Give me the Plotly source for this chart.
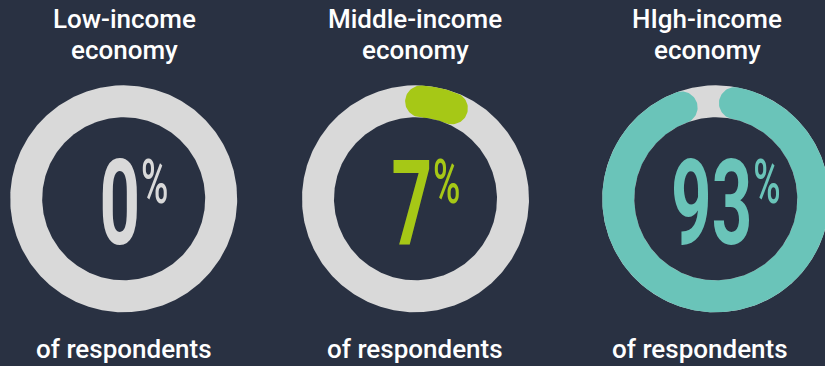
import numpy as np
import plotly.graph_objects as go

# --- data -------------------------------------------------------------
title_lines = [["Low-income", "economy"],
               ["Middle-income", "economy"],
               ["HIgh-income", "economy"]]
shares = [0, 7, 93]            # % of respondents
footers = ["of respondents", "of respondents", "of respondents"]

# --- style / layout -----------------------------------------------------
W, H = 825, 366
BG = "#293142"
TRACK = "#d9d9d9"
COLORS = ["#d9d9d9", "#a6c816", "#6ac4b9"]
RING_CX = [123.7, 415.5, 715.8]      # donut centres (px)
TITLE_CX = [124, 415, 707]
FOOT_CX = [124, 415, 700]
RING_CY = 198.8
R_OUT, R_IN = 113.5, 81.5
R_MID, HALF_W = (R_OUT + R_IN) / 2, (R_OUT - R_IN) / 2
START_DEG = [0, 0, 8]                # arc rotation, clockwise from 12 o'clock
CAP_INSET = 3.3                      # degrees the round caps are pulled in

FAMILY = "Roboto, Inter, sans-serif"
TEXT_FONT = dict(family=FAMILY, size=26, color="white", weight=500)
NUM_SIZE, PCT_SIZE = 118, 62
SQUEEZE = 0.6                        # horizontal condensing of the big figures
DIGIT_EM, PCT_EM = 0.5615, 0.74      # Roboto advance widths


def pt(cx, cy, r, deg):
    a = np.radians(deg)
    return cx + r * np.sin(a), cy - r * np.cos(a)


def circle(cx, cy, r, n=360):
    a = np.linspace(0, 360, n + 1)
    return pt(cx, cy, r, a)


def rounded_arc(cx, cy, a0, a1, n=200):
    """Closed outline of an annulus sector with round end caps."""
    xs, ys = [], []
    a = np.linspace(a0, a1, n)
    x, y = pt(cx, cy, R_OUT, a)
    xs += list(x); ys += list(y)
    u = np.array([np.sin(np.radians(a1)), -np.cos(np.radians(a1))])
    t = np.array([np.cos(np.radians(a1)), np.sin(np.radians(a1))])
    c = np.array(pt(cx, cy, R_MID, a1))
    for ph in np.linspace(0, np.pi, 40):
        p = c + HALF_W * (u * np.cos(ph) + t * np.sin(ph))
        xs.append(p[0]); ys.append(p[1])
    x, y = pt(cx, cy, R_IN, a[::-1])
    xs += list(x); ys += list(y)
    u = np.array([np.sin(np.radians(a0)), -np.cos(np.radians(a0))])
    t = np.array([np.cos(np.radians(a0)), np.sin(np.radians(a0))])
    c = np.array(pt(cx, cy, R_MID, a0))
    for ph in np.linspace(0, np.pi, 40):
        p = c + HALF_W * (-u * np.cos(ph) - t * np.sin(ph))
        xs.append(p[0]); ys.append(p[1])
    xs.append(xs[0]); ys.append(ys[0])
    return xs, ys


fig = go.Figure()

for i, v in enumerate(shares):
    cx = RING_CX[i]
    # grey track (full disk, hollowed below)
    x, y = circle(cx, RING_CY, R_OUT)
    fig.add_trace(go.Scatter(x=x, y=y, fill="toself", fillcolor=TRACK, mode="lines",
                             line=dict(width=0), hoverinfo="skip", showlegend=False))
    # value arc
    if v > 0:
        a0 = START_DEG[i] + CAP_INSET
        a1 = START_DEG[i] + v / 100 * 360 - CAP_INSET
        x, y = rounded_arc(cx, RING_CY, a0, a1)
        fig.add_trace(go.Scatter(x=x, y=y, fill="toself", fillcolor=COLORS[i], mode="lines",
                                 line=dict(width=0), hoverinfo="skip", showlegend=False))
    # hollow centre
    x, y = circle(cx, RING_CY, R_IN)
    fig.add_trace(go.Scatter(x=x, y=y, fill="toself", fillcolor=BG, mode="lines",
                             line=dict(width=0), hoverinfo="skip", showlegend=False))

    # two-line title
    for k, line in enumerate(title_lines[i]):
        fig.add_annotation(x=TITLE_CX[i], y=19.3 + 30.5 * k, text=line, showarrow=False,
                           xanchor="center", yanchor="middle", font=TEXT_FONT)
    # footer
    fig.add_annotation(x=FOOT_CX[i], y=348.5, text=footers[i], showarrow=False,
                       xanchor="center", yanchor="middle", font=TEXT_FONT)

    # big figure + percent sign (condensed later by SQUEEZE)
    num = str(v)
    num_half = SQUEEZE * len(num) * DIGIT_EM * NUM_SIZE / 2
    pct_half = SQUEEZE * PCT_EM * PCT_SIZE / 2
    num_cx = cx - 4
    fig.add_annotation(x=num_cx, y=204, text=num, showarrow=False,
                       xanchor="center", yanchor="middle",
                       font=dict(family=FAMILY, size=NUM_SIZE, color=COLORS[i], weight=700))
    fig.add_annotation(x=num_cx + num_half + 2 + pct_half, y=181, text="%", showarrow=False,
                       xanchor="center", yanchor="middle",
                       font=dict(family=FAMILY, size=PCT_SIZE, color=COLORS[i], weight=500))

fig.update_layout(
    width=W, height=H,
    margin=dict(l=0, r=0, t=0, b=0),
    paper_bgcolor=BG, plot_bgcolor=BG,
    xaxis=dict(range=[0, W], visible=False, fixedrange=True),
    yaxis=dict(range=[H, 0], visible=False, fixedrange=True),
    showlegend=False,
)

# Narrow the large figures about their own centre to get a condensed look.
condense_js = """
var gd = document.getElementById('{plot_id}');
function condense() {
  gd.querySelectorAll('text.annotation-text').forEach(function (t) {
    var fs = parseFloat(t.style.fontSize);
    if (fs > 40) {
      var b = t.getBBox();
      var c = b.x + b.width / 2;
      t.setAttribute('transform',
        'translate(' + c + ',0) scale(%s,1) translate(' + (-c) + ',0)');
    }
  });
}
condense();
gd.on('plotly_afterplot', condense);
""" % SQUEEZE

fig.write_html("out.html", config={"displayModeBar": False}, post_script=condense_js)
